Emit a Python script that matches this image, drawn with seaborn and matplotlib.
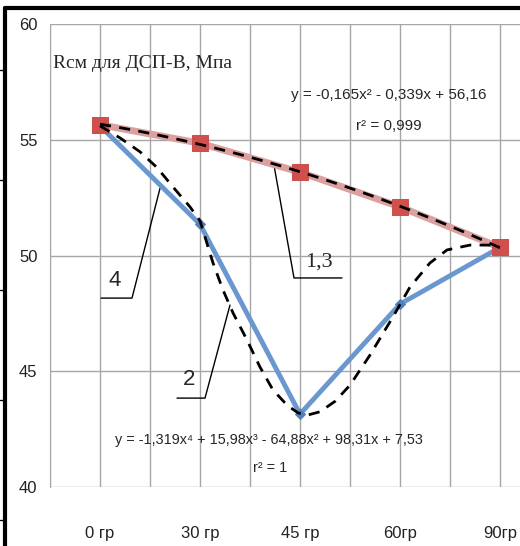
import numpy as np
import matplotlib
matplotlib.use('Agg')
import matplotlib.pyplot as plt
from matplotlib.lines import Line2D
import seaborn as sns

# data
angles = ['0 гр', '30 гр', '45 гр', '60гр', '90гр']
pos = [1, 2, 3, 4, 5]
r_13 = [55.65, 54.85, 53.6, 52.1, 50.35]   # curve 1,3
r_4 = [55.6, 51.35, 43.15, 47.9, 50.35]    # curve 4

# dashed curve 2
curve2_x = [1.0, 1.2, 1.4, 1.57, 1.73, 1.9, 2.0, 2.13, 2.23, 2.33, 2.47, 2.6, 2.73,
            2.87, 2.98, 3.07, 3.2, 3.35, 3.5, 3.7, 3.85, 3.93, 4.1, 4.3, 4.47, 4.7,
            4.9, 5.0]
curve2_y = [55.6, 55.08, 54.48, 53.8, 52.96, 52.1, 51.5, 49.68, 48.51, 47.52, 46.35,
            45.18, 44.19, 43.54, 43.2, 43.1, 43.25, 43.7, 44.4, 45.7, 46.78, 47.35,
            48.64, 49.68, 50.24, 50.45, 50.45, 50.35]

sns.set_style('white')
plt.rcParams['font.family'] = ['Liberation Sans Narrow', 'Liberation Sans', 'DejaVu Sans']

fig = plt.figure(figsize=(5.2, 5.46), dpi=100)
ax = fig.add_axes([50 / 520, 59 / 546, 470 / 520, 463 / 546])

grid_c = '#a6a6a6'
dash = (0, (4, 3))
# measured series
sns.lineplot(x=pos, y=r_4, ax=ax, color='#6a97cf', lw=3.5, marker='D', markersize=5,
             markeredgecolor='#4f81bd', markerfacecolor='#4f81bd', zorder=3)
sns.lineplot(x=pos, y=r_13, ax=ax, color='#dca0a0', lw=5, marker='s', markersize=11,
             markeredgecolor='#c9504d', markerfacecolor='#d0504d', zorder=3)
# trend lines: 2 (traced) and quadratic for 1,3
sns.lineplot(x=curve2_x, y=curve2_y, ax=ax, sort=False, color='black', lw=2,
             linestyle=dash, zorder=4)
sns.regplot(x=pos, y=r_13, order=2, ci=None, scatter=False, ax=ax,
            line_kws=dict(color='black', lw=2, ls=dash, zorder=4))

ax.set_xlim(0.5, 5.2)
ax.set_ylim(40, 60)
ax.set_xticks(pos)
ax.set_xticklabels(angles)
ax.set_xticks([0.5, 1.5, 2.5, 3.5, 4.5], minor=True)
ax.set_yticks([40, 45, 50, 55, 60])
ax.tick_params(axis='x', which='major', length=0, pad=28, labelsize=12, colors='#222222')
ax.tick_params(axis='x', which='minor', length=9, width=1, color=grid_c, direction='out')
ax.tick_params(axis='y', length=5, width=1, color=grid_c, labelsize=12, pad=4,
               labelcolor='#222222')
ax.grid(True, which='both', color=grid_c, lw=1)
ax.set_axisbelow(True)
ax.set_xlabel('')
ax.set_ylabel('')
for s in ['top', 'right', 'bottom']:
    ax.spines[s].set_visible(False)
ax.spines['left'].set_color(grid_c)

serif = ['Liberation Serif', 'DejaVu Serif']
ax.text(0.53, 58.3, 'Rсм для ДСП-В, Мпа', family=serif, fontsize=14, va='center')

ax.text(3.89, 56.93, 'y = -0,165x² - 0,339x + 56,16', fontsize=11, ha='center', va='center')
ax.text(3.89, 55.6, 'r² = 0,999', fontsize=11, ha='center', va='center')
ax.text(2.69, 42.03, 'y = -1,319x⁴ + 15,98x³ - 64,88x² + 98,31x + 7,53', fontsize=10.4,
        ha='center', va='center')
ax.text(2.70, 40.8, 'r² = 1', fontsize=10.4, ha='center', va='center')

# curve numbers with leader lines
ax.text(1.15, 48.9, '4', fontsize=16, ha='center', va='center')
ax.plot([1.01, 1.32, 1.60], [48.16, 48.16, 52.9], color='black', lw=1)
ax.text(1.89, 44.66, '2', fontsize=16, ha='center', va='center')
ax.plot([1.77, 2.05, 2.30], [43.84, 43.84, 47.86], color='black', lw=1)
ax.text(3.19, 49.72, '1,3', family=serif, fontsize=16, ha='center', va='center')
ax.plot([3.42, 2.94, 2.74], [49.03, 49.03, 53.9], color='black', lw=1)

# outer frame of the scanned figure
fig.add_artist(Line2D([5 / 520, 5 / 520], [0, 538 / 546], color='black', lw=3))
fig.add_artist(Line2D([5 / 520, 1], [538 / 546, 538 / 546], color='black', lw=3))
for yy in [70, 180, 290, 400, 520]:
    fig.add_artist(Line2D([0, 5 / 520], [1 - yy / 546, 1 - yy / 546], color='black', lw=1))

fig.savefig('out.png', dpi=100)
